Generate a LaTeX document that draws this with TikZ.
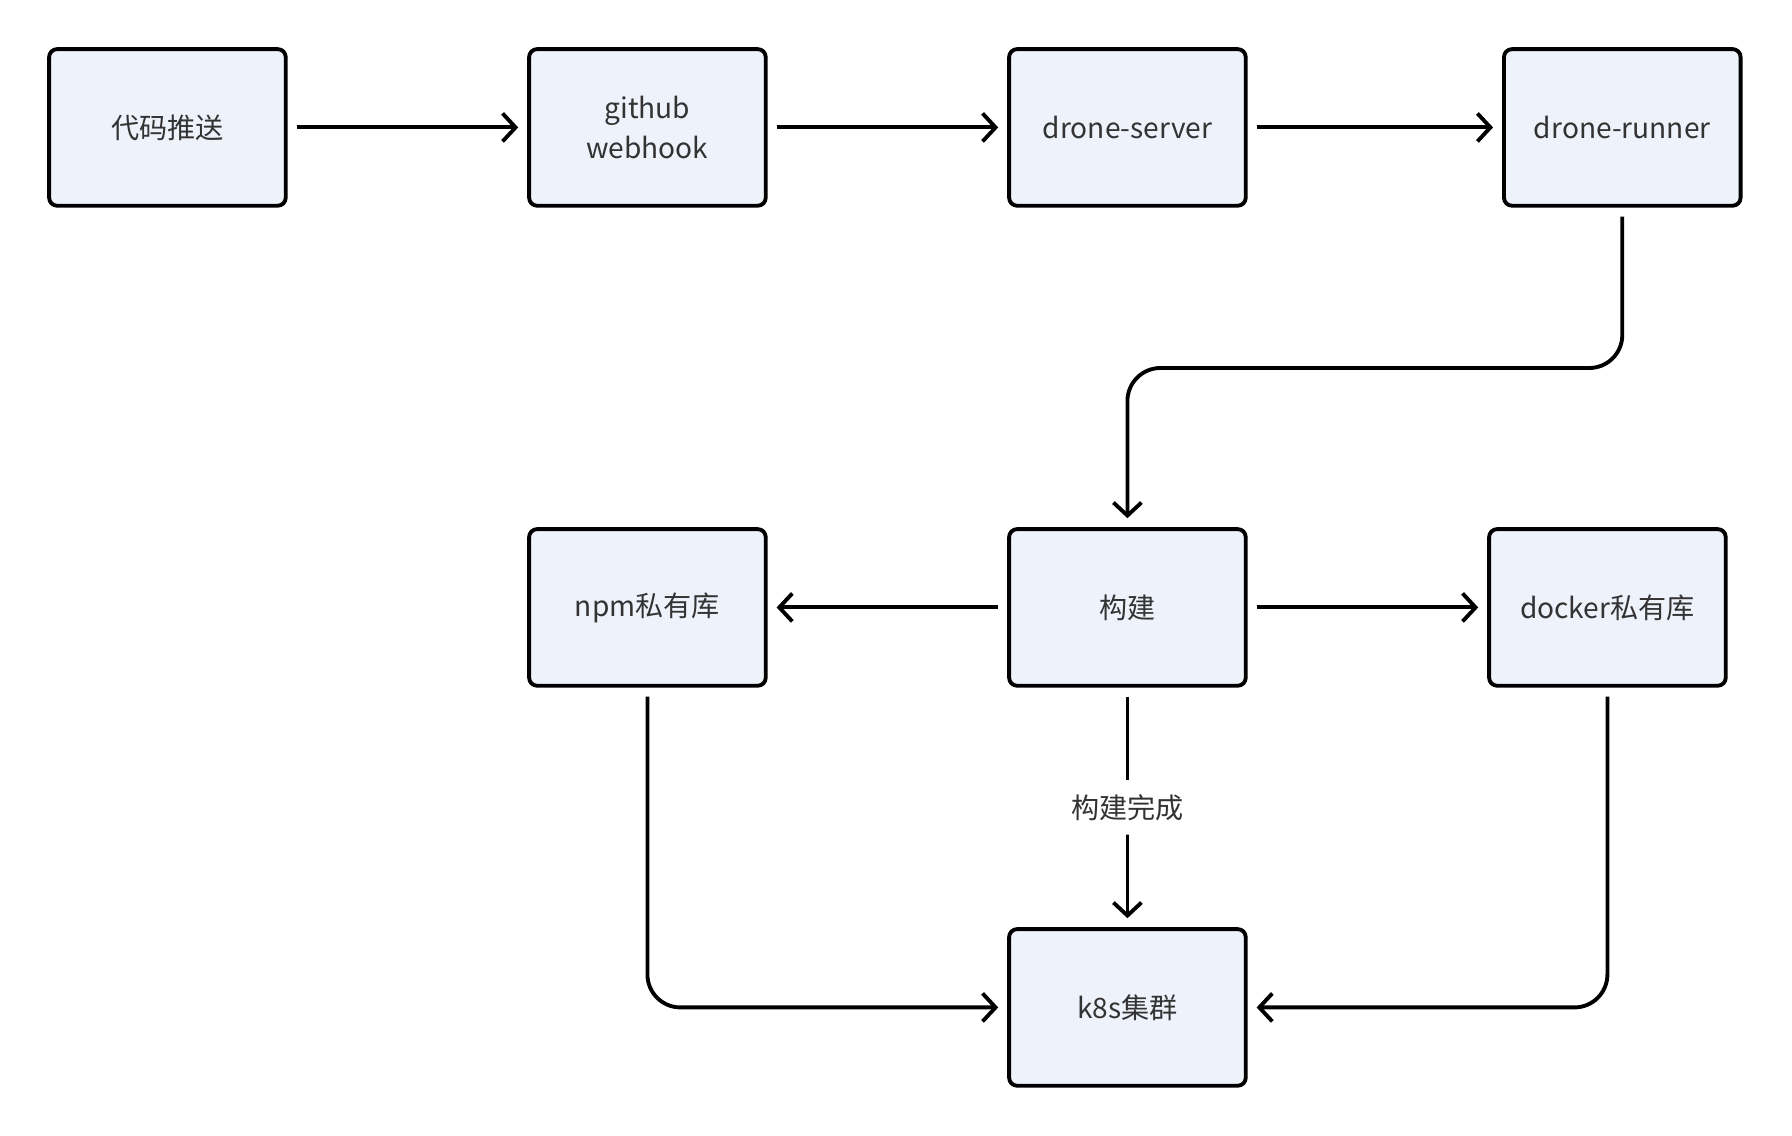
\documentclass[tikz,border=0pt]{standalone}
\usepackage{fontspec}
\setmainfont{Noto Sans CJK SC}
\usepackage{xcolor}
\usepackage{tikz}
\usetikzlibrary{arrows.meta,positioning}
\definecolor{boxfill}{RGB}{238,242,251}
\definecolor{txtgray}{RGB}{51,51,51}

\begin{document}
\begin{tikzpicture}[x=0.011429cm, y=-0.011429cm, font=\fontsize{8pt}{11.4pt}\selectfont,
      stepbox/.style={rectangle, rounded corners=0.8mm, draw=black, fill=boxfill,
                  line width=1.1pt, minimum width=2.366cm, minimum height=1.566cm,
                  align=center, text=txtgray},
      flow/.style={line width=1.1pt, -{Straight Barb[length=1.3mm,width=2.8mm]},
                  shorten <=0.09cm, shorten >=0.09cm, rounded corners=0.33cm}]
    \useasboundingbox (0,0) rectangle (1568,994);
    \node[stepbox] (push) at (146.5, 111.5) {代码推送};
    \node[stepbox] (hook) at (566.5, 111.5) {github\\webhook};
    \node[stepbox] (server) at (986.5, 111.5) {drone-server};
    \node[stepbox] (runner) at (1419.5, 111.5) {drone-runner};
    \node[stepbox] (npm) at (566.5, 531.5) {npm私有库};
    \node[stepbox] (build) at (986.5, 531.5) {构建};
    \node[stepbox] (docker) at (1406.5, 531.5) {docker私有库};
    \node[stepbox] (k8s) at (986.5, 881.5) {k8s集群};
    \draw[flow] (push) -- (hook);
    \draw[flow] (hook) -- (server);
    \draw[flow] (server) -- (runner);
    \draw[flow] (runner.south) -- (1419.5, 322) -- (986.5, 322) -- (build.north);
    \draw[flow] (build) -- (npm);
    \draw[flow] (build) -- (docker);
    \draw[flow] (build) -- node[fill=white, text=txtgray, inner sep=4pt] {构建完成} (k8s);
    \draw[flow] (npm.south) -- (566.5, 881.5) -- (k8s.west);
    \draw[flow] (docker.south) -- (1406.5, 881.5) -- (k8s.east);
  \end{tikzpicture}
\end{document}
